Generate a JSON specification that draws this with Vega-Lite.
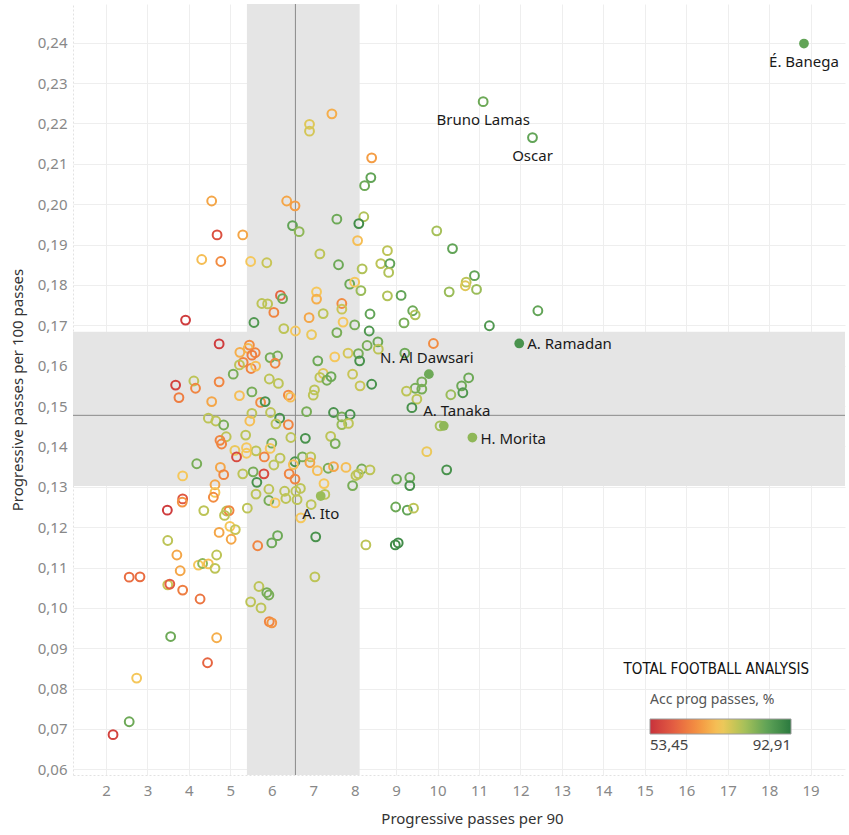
{
  "$schema": "https://vega.github.io/schema/vega-lite/v6.json",
  "width": 772,
  "height": 771,
  "autosize": {"type": "none"},
  "padding": {"left": 73, "top": 4, "right": 4, "bottom": 60},
  "background": "white",
  "title": {
    "text": "TOTAL FOOTBALL ANALYSIS",
    "orient": "bottom",
    "anchor": "end",
    "frame": "group",
    "font": "DejaVu Sans Condensed",
    "fontSize": 15,
    "fontWeight": "normal",
    "color": "#111111",
    "dx": -36,
    "dy": -168
  },
  "datasets": {
    "players": [
      {"p90": 4.55, "p100": 0.2008, "acc": 69, "player": "", "highlight": false},
      {"p90": 4.68, "p100": 0.1924, "acc": 58, "player": "", "highlight": false},
      {"p90": 5.30, "p100": 0.1924, "acc": 69, "player": "", "highlight": false},
      {"p90": 4.31, "p100": 0.1863, "acc": 72, "player": "", "highlight": false},
      {"p90": 4.77, "p100": 0.1858, "acc": 66, "player": "", "highlight": false},
      {"p90": 5.49, "p100": 0.1858, "acc": 73, "player": "", "highlight": false},
      {"p90": 5.88, "p100": 0.1855, "acc": 77, "player": "", "highlight": false},
      {"p90": 6.36, "p100": 0.2008, "acc": 69, "player": "", "highlight": false},
      {"p90": 6.56, "p100": 0.1996, "acc": 68, "player": "", "highlight": false},
      {"p90": 6.50, "p100": 0.1947, "acc": 86, "player": "", "highlight": false},
      {"p90": 6.66, "p100": 0.1932, "acc": 82, "player": "", "highlight": false},
      {"p90": 6.91, "p100": 0.2198, "acc": 75, "player": "", "highlight": false},
      {"p90": 6.91, "p100": 0.2181, "acc": 76, "player": "", "highlight": false},
      {"p90": 7.45, "p100": 0.2224, "acc": 70, "player": "", "highlight": false},
      {"p90": 8.41, "p100": 0.2115, "acc": 68, "player": "", "highlight": false},
      {"p90": 8.39, "p100": 0.2066, "acc": 86, "player": "", "highlight": false},
      {"p90": 8.24, "p100": 0.2046, "acc": 85, "player": "", "highlight": false},
      {"p90": 7.57, "p100": 0.1963, "acc": 85, "player": "", "highlight": false},
      {"p90": 8.22, "p100": 0.1969, "acc": 79, "player": "", "highlight": false},
      {"p90": 8.10, "p100": 0.1952, "acc": 90, "player": "", "highlight": false},
      {"p90": 8.07, "p100": 0.1910, "acc": 72, "player": "", "highlight": false},
      {"p90": 7.16, "p100": 0.1877, "acc": 78, "player": "", "highlight": false},
      {"p90": 7.61, "p100": 0.1850, "acc": 85, "player": "", "highlight": false},
      {"p90": 8.79, "p100": 0.1885, "acc": 78, "player": "", "highlight": false},
      {"p90": 8.63, "p100": 0.1853, "acc": 78, "player": "", "highlight": false},
      {"p90": 8.85, "p100": 0.1853, "acc": 86, "player": "", "highlight": false},
      {"p90": 8.82, "p100": 0.1831, "acc": 79, "player": "", "highlight": false},
      {"p90": 8.18, "p100": 0.1840, "acc": 79, "player": "", "highlight": false},
      {"p90": 7.88, "p100": 0.1802, "acc": 85, "player": "", "highlight": false},
      {"p90": 8.00, "p100": 0.1807, "acc": 73, "player": "", "highlight": false},
      {"p90": 8.15, "p100": 0.1786, "acc": 81, "player": "", "highlight": false},
      {"p90": 8.79, "p100": 0.1773, "acc": 79, "player": "", "highlight": false},
      {"p90": 9.12, "p100": 0.1774, "acc": 86, "player": "", "highlight": false},
      {"p90": 9.98, "p100": 0.1934, "acc": 80, "player": "", "highlight": false},
      {"p90": 10.36, "p100": 0.1890, "acc": 86, "player": "", "highlight": false},
      {"p90": 10.89, "p100": 0.1823, "acc": 86, "player": "", "highlight": false},
      {"p90": 10.69, "p100": 0.1807, "acc": 78, "player": "", "highlight": false},
      {"p90": 10.67, "p100": 0.1798, "acc": 75, "player": "", "highlight": false},
      {"p90": 10.28, "p100": 0.1783, "acc": 81, "player": "", "highlight": false},
      {"p90": 10.94, "p100": 0.1789, "acc": 81, "player": "", "highlight": false},
      {"p90": 7.08, "p100": 0.1783, "acc": 73, "player": "", "highlight": false},
      {"p90": 7.08, "p100": 0.1765, "acc": 70, "player": "", "highlight": false},
      {"p90": 6.21, "p100": 0.1774, "acc": 61, "player": "", "highlight": false},
      {"p90": 6.26, "p100": 0.1766, "acc": 85, "player": "", "highlight": false},
      {"p90": 11.10, "p100": 0.2254, "acc": 85, "player": "Bruno Lamas", "highlight": false},
      {"p90": 12.29, "p100": 0.2165, "acc": 86, "player": "Oscar", "highlight": false},
      {"p90": 18.84, "p100": 0.2398, "acc": 86, "player": "É. Banega", "highlight": true},
      {"p90": 5.76, "p100": 0.1754, "acc": 78, "player": "", "highlight": false},
      {"p90": 5.90, "p100": 0.1753, "acc": 78, "player": "", "highlight": false},
      {"p90": 6.05, "p100": 0.1732, "acc": 65, "player": "", "highlight": false},
      {"p90": 7.69, "p100": 0.1754, "acc": 66, "player": "", "highlight": false},
      {"p90": 7.69, "p100": 0.1740, "acc": 77, "player": "", "highlight": false},
      {"p90": 7.24, "p100": 0.1729, "acc": 78, "player": "", "highlight": false},
      {"p90": 6.90, "p100": 0.1719, "acc": 69, "player": "", "highlight": false},
      {"p90": 8.37, "p100": 0.1728, "acc": 86, "player": "", "highlight": false},
      {"p90": 5.57, "p100": 0.1707, "acc": 88, "player": "", "highlight": false},
      {"p90": 7.72, "p100": 0.1708, "acc": 73, "player": "", "highlight": false},
      {"p90": 8.00, "p100": 0.1701, "acc": 84, "player": "", "highlight": false},
      {"p90": 8.35, "p100": 0.1686, "acc": 88, "player": "", "highlight": false},
      {"p90": 9.19, "p100": 0.1706, "acc": 84, "player": "", "highlight": false},
      {"p90": 9.40, "p100": 0.1736, "acc": 85, "player": "", "highlight": false},
      {"p90": 9.46, "p100": 0.1726, "acc": 79, "player": "", "highlight": false},
      {"p90": 6.29, "p100": 0.1692, "acc": 78, "player": "", "highlight": false},
      {"p90": 6.57, "p100": 0.1686, "acc": 73, "player": "", "highlight": false},
      {"p90": 6.96, "p100": 0.1677, "acc": 74, "player": "", "highlight": false},
      {"p90": 7.57, "p100": 0.1682, "acc": 84, "player": "", "highlight": false},
      {"p90": 8.30, "p100": 0.1650, "acc": 84, "player": "", "highlight": false},
      {"p90": 8.56, "p100": 0.1659, "acc": 85, "player": "", "highlight": false},
      {"p90": 8.57, "p100": 0.1641, "acc": 78, "player": "", "highlight": false},
      {"p90": 9.90, "p100": 0.1655, "acc": 66, "player": "", "highlight": false},
      {"p90": 9.21, "p100": 0.1631, "acc": 85, "player": "", "highlight": false},
      {"p90": 4.73, "p100": 0.1654, "acc": 55, "player": "", "highlight": false},
      {"p90": 3.92, "p100": 0.1713, "acc": 55, "player": "", "highlight": false},
      {"p90": 5.46, "p100": 0.1651, "acc": 66, "player": "", "highlight": false},
      {"p90": 5.43, "p100": 0.1643, "acc": 71, "player": "", "highlight": false},
      {"p90": 5.23, "p100": 0.1633, "acc": 70, "player": "", "highlight": false},
      {"p90": 5.60, "p100": 0.1632, "acc": 65, "player": "", "highlight": false},
      {"p90": 5.52, "p100": 0.1626, "acc": 64, "player": "", "highlight": false},
      {"p90": 5.31, "p100": 0.1608, "acc": 65, "player": "", "highlight": false},
      {"p90": 5.50, "p100": 0.1593, "acc": 65, "player": "", "highlight": false},
      {"p90": 5.61, "p100": 0.1599, "acc": 72, "player": "", "highlight": false},
      {"p90": 5.22, "p100": 0.1602, "acc": 78, "player": "", "highlight": false},
      {"p90": 5.07, "p100": 0.1579, "acc": 84, "player": "", "highlight": false},
      {"p90": 5.96, "p100": 0.1620, "acc": 84, "player": "", "highlight": false},
      {"p90": 6.14, "p100": 0.1624, "acc": 84, "player": "", "highlight": false},
      {"p90": 6.08, "p100": 0.1606, "acc": 65, "player": "", "highlight": false},
      {"p90": 7.11, "p100": 0.1612, "acc": 85, "player": "", "highlight": false},
      {"p90": 7.24, "p100": 0.1581, "acc": 75, "player": "", "highlight": false},
      {"p90": 7.16, "p100": 0.1571, "acc": 78, "player": "", "highlight": false},
      {"p90": 7.33, "p100": 0.1564, "acc": 84, "player": "", "highlight": false},
      {"p90": 7.43, "p100": 0.1573, "acc": 85, "player": "", "highlight": false},
      {"p90": 7.52, "p100": 0.1622, "acc": 73, "player": "", "highlight": false},
      {"p90": 7.84, "p100": 0.1631, "acc": 76, "player": "", "highlight": false},
      {"p90": 8.09, "p100": 0.1630, "acc": 84, "player": "", "highlight": false},
      {"p90": 8.12, "p100": 0.1612, "acc": 89, "player": "", "highlight": false},
      {"p90": 7.95, "p100": 0.1579, "acc": 77, "player": "", "highlight": false},
      {"p90": 8.13, "p100": 0.1550, "acc": 77, "player": "", "highlight": false},
      {"p90": 8.41, "p100": 0.1554, "acc": 89, "player": "", "highlight": false},
      {"p90": 5.94, "p100": 0.1567, "acc": 78, "player": "", "highlight": false},
      {"p90": 6.16, "p100": 0.1556, "acc": 78, "player": "", "highlight": false},
      {"p90": 4.12, "p100": 0.1562, "acc": 78, "player": "", "highlight": false},
      {"p90": 4.16, "p100": 0.1544, "acc": 65, "player": "", "highlight": false},
      {"p90": 4.73, "p100": 0.1560, "acc": 65, "player": "", "highlight": false},
      {"p90": 3.68, "p100": 0.1552, "acc": 56, "player": "", "highlight": false},
      {"p90": 3.76, "p100": 0.1521, "acc": 64, "player": "", "highlight": false},
      {"p90": 5.52, "p100": 0.1535, "acc": 84, "player": "", "highlight": false},
      {"p90": 5.22, "p100": 0.1526, "acc": 72, "player": "", "highlight": false},
      {"p90": 4.55, "p100": 0.1511, "acc": 69, "player": "", "highlight": false},
      {"p90": 5.73, "p100": 0.1509, "acc": 66, "player": "", "highlight": false},
      {"p90": 5.84, "p100": 0.1511, "acc": 89, "player": "", "highlight": false},
      {"p90": 6.40, "p100": 0.1527, "acc": 66, "player": "", "highlight": false},
      {"p90": 6.45, "p100": 0.1522, "acc": 72, "player": "", "highlight": false},
      {"p90": 7.03, "p100": 0.1540, "acc": 78, "player": "", "highlight": false},
      {"p90": 7.00, "p100": 0.1527, "acc": 78, "player": "", "highlight": false},
      {"p90": 6.84, "p100": 0.1486, "acc": 84, "player": "", "highlight": false},
      {"p90": 5.52, "p100": 0.1482, "acc": 78, "player": "", "highlight": false},
      {"p90": 5.97, "p100": 0.1484, "acc": 78, "player": "", "highlight": false},
      {"p90": 6.19, "p100": 0.1470, "acc": 89, "player": "", "highlight": false},
      {"p90": 6.10, "p100": 0.1456, "acc": 78, "player": "", "highlight": false},
      {"p90": 6.40, "p100": 0.1454, "acc": 65, "player": "", "highlight": false},
      {"p90": 5.47, "p100": 0.1463, "acc": 72, "player": "", "highlight": false},
      {"p90": 4.47, "p100": 0.1470, "acc": 78, "player": "", "highlight": false},
      {"p90": 4.65, "p100": 0.1463, "acc": 78, "player": "", "highlight": false},
      {"p90": 4.84, "p100": 0.1453, "acc": 84, "player": "", "highlight": false},
      {"p90": 4.90, "p100": 0.1424, "acc": 78, "player": "", "highlight": false},
      {"p90": 4.75, "p100": 0.1415, "acc": 65, "player": "", "highlight": false},
      {"p90": 4.79, "p100": 0.1406, "acc": 65, "player": "", "highlight": false},
      {"p90": 5.37, "p100": 0.1428, "acc": 78, "player": "", "highlight": false},
      {"p90": 6.46, "p100": 0.1422, "acc": 78, "player": "", "highlight": false},
      {"p90": 6.81, "p100": 0.1420, "acc": 89, "player": "", "highlight": false},
      {"p90": 6.00, "p100": 0.1408, "acc": 84, "player": "", "highlight": false},
      {"p90": 5.96, "p100": 0.1395, "acc": 73, "player": "", "highlight": false},
      {"p90": 5.62, "p100": 0.1389, "acc": 78, "player": "", "highlight": false},
      {"p90": 5.39, "p100": 0.1397, "acc": 73, "player": "", "highlight": false},
      {"p90": 5.39, "p100": 0.1383, "acc": 73, "player": "", "highlight": false},
      {"p90": 5.11, "p100": 0.1390, "acc": 74, "player": "", "highlight": false},
      {"p90": 5.15, "p100": 0.1374, "acc": 57, "player": "", "highlight": false},
      {"p90": 5.82, "p100": 0.1374, "acc": 65, "player": "", "highlight": false},
      {"p90": 6.20, "p100": 0.1371, "acc": 78, "player": "", "highlight": false},
      {"p90": 6.05, "p100": 0.1354, "acc": 78, "player": "", "highlight": false},
      {"p90": 6.56, "p100": 0.1362, "acc": 89, "player": "", "highlight": false},
      {"p90": 6.74, "p100": 0.1374, "acc": 84, "player": "", "highlight": false},
      {"p90": 6.94, "p100": 0.1374, "acc": 78, "player": "", "highlight": false},
      {"p90": 6.92, "p100": 0.1360, "acc": 69, "player": "", "highlight": false},
      {"p90": 6.52, "p100": 0.1355, "acc": 72, "player": "", "highlight": false},
      {"p90": 7.10, "p100": 0.1340, "acc": 72, "player": "", "highlight": false},
      {"p90": 6.42, "p100": 0.1332, "acc": 65, "player": "", "highlight": false},
      {"p90": 6.56, "p100": 0.1319, "acc": 65, "player": "", "highlight": false},
      {"p90": 5.81, "p100": 0.1332, "acc": 57, "player": "", "highlight": false},
      {"p90": 5.55, "p100": 0.1337, "acc": 84, "player": "", "highlight": false},
      {"p90": 5.64, "p100": 0.1311, "acc": 89, "player": "", "highlight": false},
      {"p90": 5.30, "p100": 0.1332, "acc": 78, "player": "", "highlight": false},
      {"p90": 4.76, "p100": 0.1348, "acc": 69, "player": "", "highlight": false},
      {"p90": 4.84, "p100": 0.1330, "acc": 65, "player": "", "highlight": false},
      {"p90": 4.19, "p100": 0.1357, "acc": 84, "player": "", "highlight": false},
      {"p90": 3.85, "p100": 0.1327, "acc": 73, "player": "", "highlight": false},
      {"p90": 4.63, "p100": 0.1305, "acc": 69, "player": "", "highlight": false},
      {"p90": 4.63, "p100": 0.1286, "acc": 73, "player": "", "highlight": false},
      {"p90": 4.59, "p100": 0.1274, "acc": 66, "player": "", "highlight": false},
      {"p90": 3.85, "p100": 0.1270, "acc": 59, "player": "", "highlight": false},
      {"p90": 3.84, "p100": 0.1262, "acc": 67, "player": "", "highlight": false},
      {"p90": 3.48, "p100": 0.1242, "acc": 55, "player": "", "highlight": false},
      {"p90": 4.36, "p100": 0.1241, "acc": 78, "player": "", "highlight": false},
      {"p90": 4.91, "p100": 0.1240, "acc": 78, "player": "", "highlight": false},
      {"p90": 4.97, "p100": 0.1241, "acc": 65, "player": "", "highlight": false},
      {"p90": 4.86, "p100": 0.1229, "acc": 78, "player": "", "highlight": false},
      {"p90": 4.99, "p100": 0.1202, "acc": 73, "player": "", "highlight": false},
      {"p90": 5.12, "p100": 0.1194, "acc": 77, "player": "", "highlight": false},
      {"p90": 4.73, "p100": 0.1187, "acc": 69, "player": "", "highlight": false},
      {"p90": 5.02, "p100": 0.1170, "acc": 69, "player": "", "highlight": false},
      {"p90": 3.49, "p100": 0.1167, "acc": 78, "player": "", "highlight": false},
      {"p90": 5.62, "p100": 0.1282, "acc": 78, "player": "", "highlight": false},
      {"p90": 5.93, "p100": 0.1294, "acc": 78, "player": "", "highlight": false},
      {"p90": 6.31, "p100": 0.1289, "acc": 78, "player": "", "highlight": false},
      {"p90": 6.58, "p100": 0.1289, "acc": 78, "player": "", "highlight": false},
      {"p90": 6.69, "p100": 0.1296, "acc": 78, "player": "", "highlight": false},
      {"p90": 5.93, "p100": 0.1266, "acc": 84, "player": "", "highlight": false},
      {"p90": 6.08, "p100": 0.1260, "acc": 73, "player": "", "highlight": false},
      {"p90": 6.34, "p100": 0.1271, "acc": 78, "player": "", "highlight": false},
      {"p90": 6.61, "p100": 0.1268, "acc": 78, "player": "", "highlight": false},
      {"p90": 6.95, "p100": 0.1256, "acc": 78, "player": "", "highlight": false},
      {"p90": 7.18, "p100": 0.1277, "acc": 81, "player": "A. Ito", "highlight": true},
      {"p90": 7.28, "p100": 0.1281, "acc": 78, "player": "", "highlight": false},
      {"p90": 7.26, "p100": 0.1308, "acc": 73, "player": "", "highlight": false},
      {"p90": 7.36, "p100": 0.1346, "acc": 84, "player": "", "highlight": false},
      {"p90": 7.42, "p100": 0.1425, "acc": 78, "player": "", "highlight": false},
      {"p90": 7.53, "p100": 0.1407, "acc": 84, "player": "", "highlight": false},
      {"p90": 7.49, "p100": 0.1350, "acc": 69, "player": "", "highlight": false},
      {"p90": 7.79, "p100": 0.1348, "acc": 72, "player": "", "highlight": false},
      {"p90": 8.17, "p100": 0.1344, "acc": 84, "player": "", "highlight": false},
      {"p90": 8.09, "p100": 0.1332, "acc": 78, "player": "", "highlight": false},
      {"p90": 8.03, "p100": 0.1328, "acc": 78, "player": "", "highlight": false},
      {"p90": 8.37, "p100": 0.1342, "acc": 78, "player": "", "highlight": false},
      {"p90": 7.95, "p100": 0.1303, "acc": 84, "player": "", "highlight": false},
      {"p90": 5.41, "p100": 0.1247, "acc": 78, "player": "", "highlight": false},
      {"p90": 6.70, "p100": 0.1223, "acc": 73, "player": "", "highlight": false},
      {"p90": 6.14, "p100": 0.1179, "acc": 85, "player": "", "highlight": false},
      {"p90": 6.00, "p100": 0.1161, "acc": 85, "player": "", "highlight": false},
      {"p90": 5.66, "p100": 0.1154, "acc": 65, "player": "", "highlight": false},
      {"p90": 7.06, "p100": 0.1176, "acc": 89, "player": "", "highlight": false},
      {"p90": 8.27, "p100": 0.1156, "acc": 78, "player": "", "highlight": false},
      {"p90": 8.98, "p100": 0.1156, "acc": 90, "player": "", "highlight": false},
      {"p90": 9.05, "p100": 0.1161, "acc": 90, "player": "", "highlight": false},
      {"p90": 9.01, "p100": 0.1319, "acc": 85, "player": "", "highlight": false},
      {"p90": 9.33, "p100": 0.1323, "acc": 85, "player": "", "highlight": false},
      {"p90": 9.33, "p100": 0.1303, "acc": 89, "player": "", "highlight": false},
      {"p90": 8.99, "p100": 0.1250, "acc": 85, "player": "", "highlight": false},
      {"p90": 9.27, "p100": 0.1242, "acc": 86, "player": "", "highlight": false},
      {"p90": 9.42, "p100": 0.1247, "acc": 78, "player": "", "highlight": false},
      {"p90": 9.74, "p100": 0.1387, "acc": 74, "player": "", "highlight": false},
      {"p90": 10.22, "p100": 0.1342, "acc": 89, "player": "", "highlight": false},
      {"p90": 10.06, "p100": 0.1451, "acc": 80, "player": "", "highlight": false},
      {"p90": 10.15, "p100": 0.1451, "acc": 82, "player": "A. Tanaka", "highlight": true},
      {"p90": 10.84, "p100": 0.1422, "acc": 82, "player": "H. Morita", "highlight": true},
      {"p90": 9.79, "p100": 0.1579, "acc": 85, "player": "N. Al Dawsari", "highlight": true},
      {"p90": 11.97, "p100": 0.1655, "acc": 89, "player": "A. Ramadan", "highlight": true},
      {"p90": 12.42, "p100": 0.1736, "acc": 86, "player": "", "highlight": false},
      {"p90": 11.25, "p100": 0.1699, "acc": 88, "player": "", "highlight": false},
      {"p90": 10.75, "p100": 0.1570, "acc": 85, "player": "", "highlight": false},
      {"p90": 10.58, "p100": 0.1550, "acc": 85, "player": "", "highlight": false},
      {"p90": 10.61, "p100": 0.1533, "acc": 88, "player": "", "highlight": false},
      {"p90": 10.32, "p100": 0.1528, "acc": 81, "player": "", "highlight": false},
      {"p90": 9.62, "p100": 0.1560, "acc": 84, "player": "", "highlight": false},
      {"p90": 9.62, "p100": 0.1542, "acc": 84, "player": "", "highlight": false},
      {"p90": 9.46, "p100": 0.1544, "acc": 84, "player": "", "highlight": false},
      {"p90": 9.25, "p100": 0.1537, "acc": 78, "player": "", "highlight": false},
      {"p90": 9.50, "p100": 0.1517, "acc": 78, "player": "", "highlight": false},
      {"p90": 9.38, "p100": 0.1496, "acc": 89, "player": "", "highlight": false},
      {"p90": 7.49, "p100": 0.1484, "acc": 89, "player": "", "highlight": false},
      {"p90": 7.69, "p100": 0.1473, "acc": 84, "player": "", "highlight": false},
      {"p90": 7.89, "p100": 0.1479, "acc": 89, "player": "", "highlight": false},
      {"p90": 7.69, "p100": 0.1454, "acc": 81, "player": "", "highlight": false},
      {"p90": 7.85, "p100": 0.1457, "acc": 78, "player": "", "highlight": false},
      {"p90": 3.71, "p100": 0.1131, "acc": 69, "player": "", "highlight": false},
      {"p90": 4.67, "p100": 0.1131, "acc": 78, "player": "", "highlight": false},
      {"p90": 4.23, "p100": 0.1106, "acc": 73, "player": "", "highlight": false},
      {"p90": 4.33, "p100": 0.1110, "acc": 82, "player": "", "highlight": false},
      {"p90": 4.47, "p100": 0.1109, "acc": 72, "player": "", "highlight": false},
      {"p90": 4.63, "p100": 0.1098, "acc": 78, "player": "", "highlight": false},
      {"p90": 3.79, "p100": 0.1092, "acc": 69, "player": "", "highlight": false},
      {"p90": 2.56, "p100": 0.1076, "acc": 62, "player": "", "highlight": false},
      {"p90": 2.82, "p100": 0.1077, "acc": 62, "player": "", "highlight": false},
      {"p90": 3.49, "p100": 0.1057, "acc": 77, "player": "", "highlight": false},
      {"p90": 3.54, "p100": 0.1059, "acc": 60, "player": "", "highlight": false},
      {"p90": 3.85, "p100": 0.1044, "acc": 64, "player": "", "highlight": false},
      {"p90": 4.27, "p100": 0.1022, "acc": 63, "player": "", "highlight": false},
      {"p90": 3.56, "p100": 0.0929, "acc": 85, "player": "", "highlight": false},
      {"p90": 4.67, "p100": 0.0926, "acc": 70, "player": "", "highlight": false},
      {"p90": 4.45, "p100": 0.0864, "acc": 61, "player": "", "highlight": false},
      {"p90": 2.74, "p100": 0.0826, "acc": 73, "player": "", "highlight": false},
      {"p90": 2.56, "p100": 0.0718, "acc": 85, "player": "", "highlight": false},
      {"p90": 2.17, "p100": 0.0686, "acc": 56, "player": "", "highlight": false},
      {"p90": 5.69, "p100": 0.1053, "acc": 78, "player": "", "highlight": false},
      {"p90": 5.88, "p100": 0.1038, "acc": 84, "player": "", "highlight": false},
      {"p90": 5.93, "p100": 0.1032, "acc": 84, "player": "", "highlight": false},
      {"p90": 5.49, "p100": 0.1015, "acc": 78, "player": "", "highlight": false},
      {"p90": 5.74, "p100": 0.1000, "acc": 78, "player": "", "highlight": false},
      {"p90": 5.94, "p100": 0.0966, "acc": 65, "player": "", "highlight": false},
      {"p90": 6.00, "p100": 0.0963, "acc": 67, "player": "", "highlight": false},
      {"p90": 7.04, "p100": 0.1077, "acc": 78, "player": "", "highlight": false}
    ],
    "bandX": [{"lo": 5.40, "hi": 8.12}],
    "bandY": [{"lo": 0.1302, "hi": 0.1684}],
    "avg": [{"p90": 6.57, "p100": 0.1477}]
  },
  "layer": [
    {
      "data": {"name": "bandX"},
      "mark": {"type": "rect", "color": "#e5e5e5"},
      "encoding": {
        "x": {
          "field": "lo", "type": "quantitative", "title": "Progressive passes per 90",
          "scale": {"domain": [1.204, 19.83], "nice": false, "zero": false},
          "axis": {
            "values": [2, 3, 4, 5, 6, 7, 8, 9, 10, 11, 12, 13, 14, 15, 16, 17, 18, 19],
            "format": "d", "grid": true, "gridColor": "#eeeeee", "gridWidth": 1,
            "domain": true, "domainColor": "#e2e2e2", "domainDash": [2, 2],
            "ticks": false, "labelFontSize": 15, "labelColor": "#888888", "labelPadding": 8,
            "titleFontSize": 15, "titleColor": "#333333", "titleFontWeight": "normal", "titlePadding": 13,
            "titleX": 399
          }
        },
        "x2": {"field": "hi"}
      }
    },
    {
      "data": {"name": "bandY"},
      "mark": {"type": "rect", "color": "#e5e5e5"},
      "encoding": {
        "y": {
          "field": "lo", "type": "quantitative", "title": "Progressive passes per 100 passes",
          "scale": {"domain": [0.0586, 0.2496], "nice": false, "zero": false},
          "axis": {
            "values": [0.06, 0.07, 0.08, 0.09, 0.10, 0.11, 0.12, 0.13, 0.14, 0.15, 0.16, 0.17, 0.18, 0.19, 0.20, 0.21, 0.22, 0.23, 0.24],
            "format": ".2f", "grid": true, "gridColor": "#eeeeee", "gridWidth": 1,
            "domain": true, "domainColor": "#e2e2e2", "domainDash": [2, 2],
            "ticks": false, "labelFontSize": 15, "labelColor": "#888888", "labelPadding": 6,
            "titleFontSize": 15, "titleColor": "#333333", "titleFontWeight": "normal", "titlePadding": 12
          }
        },
        "y2": {"field": "hi"}
      }
    },
    {
      "data": {"name": "avg"},
      "mark": {"type": "rule", "color": "#8a8a8a", "strokeWidth": 1},
      "encoding": {"x": {"field": "p90", "type": "quantitative", "title": "Progressive passes per 90"}}
    },
    {
      "data": {"name": "avg"},
      "mark": {"type": "rule", "color": "#8a8a8a", "strokeWidth": 1},
      "encoding": {"y": {"field": "p100", "type": "quantitative", "title": "Progressive passes per 100 passes"}}
    },
    {
      "data": {"name": "players"},
      "transform": [{"filter": "!datum.highlight"}],
      "mark": {"type": "point", "shape": "circle", "filled": false, "strokeWidth": 2, "size": 78, "opacity": 1},
      "encoding": {
        "x": {"field": "p90", "type": "quantitative", "title": "Progressive passes per 90"},
        "y": {"field": "p100", "type": "quantitative", "title": "Progressive passes per 100 passes"},
        "stroke": {
          "field": "acc", "type": "quantitative", "title": "Acc prog passes, %",
          "scale": {
            "domain": [53.45, 60.03, 66.61, 73.18, 79.76, 86.33, 92.91],
            "range": ["#c8313c", "#e35d42", "#f39142", "#f5c85c", "#a9c15a", "#5ea257", "#2a7a3f"]
          },
          "legend": {
            "orient": "none", "legendX": 577, "legendY": 689, "direction": "horizontal",
            "titleAnchor": "start", "titleAlign": "left",
            "titleFontSize": 14, "titleFontWeight": "normal", "titleColor": "#555555", "titlePadding": 12,
            "gradientLength": 141, "gradientThickness": 15, "gradientStrokeColor": "#9a9a9a", "gradientStrokeWidth": 1,
            "values": [53.45, 92.91], "format": ".2f",
            "labelFontSize": 15, "labelColor": "#444444", "labelOffset": 4, "padding": 0
          }
        }
      }
    },
    {
      "data": {"name": "players"},
      "transform": [{"filter": "datum.highlight"}],
      "mark": {"type": "circle", "size": 95, "opacity": 1},
      "encoding": {
        "x": {"field": "p90", "type": "quantitative", "title": "Progressive passes per 90"},
        "y": {"field": "p100", "type": "quantitative", "title": "Progressive passes per 100 passes"},
        "fill": {
          "field": "acc", "type": "quantitative", "title": "Accuracy",
          "scale": {
            "domain": [53.45, 60.03, 66.61, 73.18, 79.76, 86.33, 92.9100001],
            "range": ["#c8313c", "#e35d42", "#f39142", "#f5c85c", "#a9c15a", "#5ea257", "#2a7a3f"]
          },
          "legend": null
        }
      }
    },
    {
      "data": {"name": "players"},
      "transform": [{"filter": "indexof(['É. Banega', 'Bruno Lamas', 'Oscar', 'A. Ito'], datum.player) >= 0"}],
      "mark": {"type": "text", "align": "center", "baseline": "middle", "dy": 18, "fontSize": 15, "color": "#1a1a1a"},
      "encoding": {
        "x": {"field": "p90", "type": "quantitative", "title": "Progressive passes per 90"},
        "y": {"field": "p100", "type": "quantitative", "title": "Progressive passes per 100 passes"},
        "text": {"field": "player"}
      }
    },
    {
      "data": {"name": "players"},
      "transform": [{"filter": "indexof(['A. Ramadan', 'H. Morita'], datum.player) >= 0"}],
      "mark": {"type": "text", "align": "left", "baseline": "middle", "dx": 8, "dy": 1, "fontSize": 15, "color": "#1a1a1a"},
      "encoding": {
        "x": {"field": "p90", "type": "quantitative", "title": "Progressive passes per 90"},
        "y": {"field": "p100", "type": "quantitative", "title": "Progressive passes per 100 passes"},
        "text": {"field": "player"}
      }
    },
    {
      "data": {"name": "players"},
      "transform": [{"filter": "datum.player == 'N. Al Dawsari'"}],
      "mark": {"type": "text", "align": "center", "baseline": "middle", "dx": -2, "dy": -16, "fontSize": 15, "color": "#1a1a1a"},
      "encoding": {
        "x": {"field": "p90", "type": "quantitative", "title": "Progressive passes per 90"},
        "y": {"field": "p100", "type": "quantitative", "title": "Progressive passes per 100 passes"},
        "text": {"field": "player"}
      }
    },
    {
      "data": {"name": "players"},
      "transform": [{"filter": "datum.player == 'A. Tanaka'"}],
      "mark": {"type": "text", "align": "center", "baseline": "middle", "dx": 13, "dy": -15, "fontSize": 15, "color": "#1a1a1a"},
      "encoding": {
        "x": {"field": "p90", "type": "quantitative", "title": "Progressive passes per 90"},
        "y": {"field": "p100", "type": "quantitative", "title": "Progressive passes per 100 passes"},
        "text": {"field": "player"}
      }
    }
  ],
  "config": {
    "font": "Noto Sans",
    "view": {"stroke": null},
    "locale": {"number": {"decimal": ",", "thousands": ".", "grouping": [3], "currency": ["", " €"]}}
  }
}
